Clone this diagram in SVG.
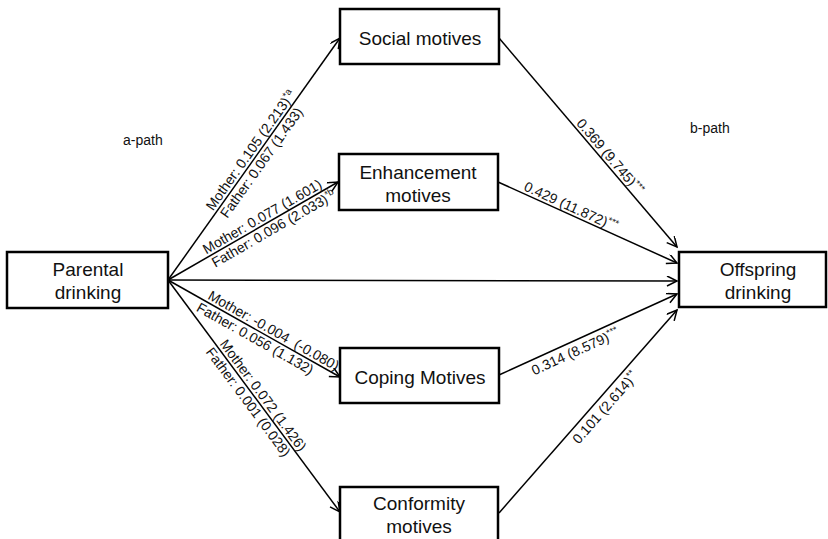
<svg xmlns="http://www.w3.org/2000/svg" width="828" height="539" viewBox="0 0 828 539">
  <style>
    .box { fill: #ffffff; stroke: #000000; stroke-width: 2.5; }
    .node-text { font-family: "Liberation Sans", Arial, sans-serif; font-size: 19px; fill: #111111; text-anchor: middle; }
    .edge { stroke: #000000; stroke-width: 1.5; fill: none; marker-end: url(#arrow); }
    .lbl { font-family: "Liberation Sans", Arial, sans-serif; font-size: 14px; fill: #111111; }
    .sup { font-size: 9.5px; }
  </style>
  <defs>
    <marker id="arrow" markerUnits="userSpaceOnUse" markerWidth="14" markerHeight="12" refX="11" refY="5" orient="auto">
      <path d="M1,0 L11,5 L1,10" fill="none" stroke="#000000" stroke-width="1.5"/>
    </marker>
  </defs>
  <rect width="828" height="539" fill="#ffffff"/>

  <!-- connectors -->
  <g id="connectors">
    <line class="edge" x1="168" y1="280" x2="340" y2="38"/>
    <line class="edge" x1="168" y1="280" x2="338" y2="182"/>
    <line class="edge" x1="168" y1="280" x2="677" y2="281"/>
    <line class="edge" x1="168" y1="280" x2="340" y2="377"/>
    <line class="edge" x1="168" y1="280" x2="340" y2="512"/>
    <line class="edge" x1="499" y1="38" x2="677" y2="247"/>
    <line class="edge" x1="498" y1="182" x2="677" y2="263"/>
    <line class="edge" x1="499" y1="375" x2="677" y2="294"/>
    <line class="edge" x1="499" y1="513" x2="677" y2="310"/>
  </g>

  <!-- path labels -->
  <g id="labels" class="lbl">
    <text x="123" y="145">a-path</text>
    <text x="690" y="133">b-path</text>

    <g transform="translate(168,280) rotate(-54.6)">
      <text x="82" y="-3">Mother: 0.105 (2.213)<tspan class="sup" dy="-5">*a</tspan></text>
      <text x="84" y="13">Father: 0.067 (1.433)</text>
    </g>
    <g transform="translate(168,280) rotate(-29.96)">
      <text x="46" y="-3">Mother: 0.077 (1.601)</text>
      <text x="47" y="13">Father: 0.096 (2.033)<tspan class="sup" dy="-5">*b</tspan></text>
    </g>
    <g transform="translate(168,280) rotate(29.42)">
      <text x="43" y="-3" xml:space="preserve">Mother: -0.004  (-0.080)</text>
      <text x="39" y="13">Father: 0.056 (1.132)</text>
    </g>
    <g transform="translate(168,280) rotate(53.45)">
      <text x="82" y="-3">Mother: 0.072 (1.426)</text>
      <text x="80" y="13">Father: 0.001 (0.028)</text>
    </g>

    <g transform="translate(499,38) rotate(49.6)">
      <text x="115" y="-3">0.369 (9.745)<tspan class="sup" dy="-5">***</tspan></text>
    </g>
    <g transform="translate(498,182) rotate(24.35)">
      <text x="26" y="-3">0.429 (11.872)<tspan class="sup" dy="-5">***</tspan></text>
    </g>
    <g transform="translate(499,375) rotate(-24.47)">
      <text x="32" y="15">0.314 (8.579)<tspan class="sup" dy="-5">***</tspan></text>
    </g>
    <g transform="translate(499,513) rotate(-48.76)">
      <text x="104" y="15">0.101 (2.614)<tspan class="sup" dy="-5">**</tspan></text>
    </g>
  </g>

  <!-- nodes -->
  <g id="parental-drinking">
    <rect class="box" x="7" y="252" width="161" height="56"/>
    <text class="node-text" x="88" y="276">Parental</text>
    <text class="node-text" x="88" y="299">drinking</text>
  </g>
  <g id="social-motives">
    <rect class="box" x="340" y="9" width="159" height="55"/>
    <text class="node-text" x="420" y="45">Social motives</text>
  </g>
  <g id="enhancement-motives">
    <rect class="box" x="339" y="154" width="159" height="56"/>
    <text class="node-text" x="418" y="179">Enhancement</text>
    <text class="node-text" x="418" y="202">motives</text>
  </g>
  <g id="coping-motives">
    <rect class="box" x="340" y="348" width="159" height="55"/>
    <text class="node-text" x="420" y="384">Coping Motives</text>
  </g>
  <g id="conformity-motives">
    <rect class="box" x="340" y="487" width="158" height="70"/>
    <text class="node-text" x="419" y="510">Conformity</text>
    <text class="node-text" x="419" y="533">motives</text>
  </g>
  <g id="offspring-drinking">
    <rect class="box" x="679" y="252" width="147" height="55"/>
    <text class="node-text" x="758" y="276">Offspring</text>
    <text class="node-text" x="758" y="299">drinking</text>
  </g>
</svg>
